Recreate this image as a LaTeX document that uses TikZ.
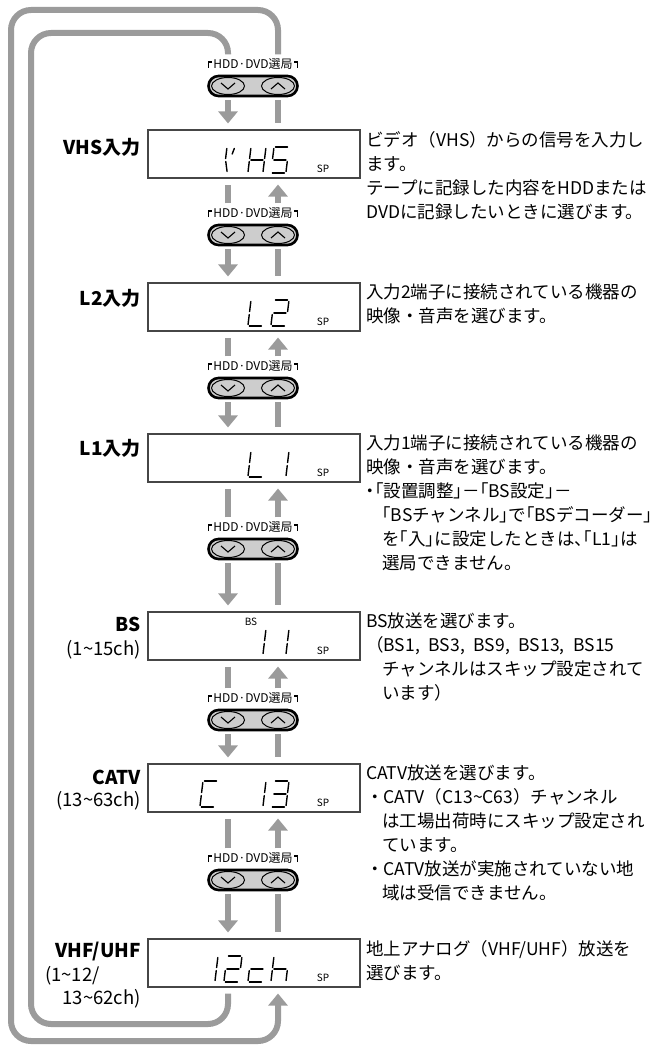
\documentclass[tikz,border=0pt]{standalone}
\usepackage{fontspec}
\setmainfont{Noto Sans CJK JP}
\newfontfamily\haltfont{Noto Sans CJK JP}[RawFeature=+halt]
\usepackage{tikz}
\usetikzlibrary{arrows.meta,shapes.geometric,shapes.misc}

\definecolor{flowgray}{RGB}{155,155,155}
\definecolor{keygray}{RGB}{205,205,205}
\definecolor{lcdframe}{RGB}{70,70,70}

\newcommand{\hw}[1]{{\haltfont #1}}

\tikzset{
  flow/.style={draw=flowgray, line width=6pt, shorten <=3pt, shorten >=6pt},
  flowarr/.style={flow, -{Triangle[width=19pt,length=12pt]}},
  loopline/.style={draw=flowgray, line width=6pt, rounded corners=20pt},
  display/.style={draw=lcdframe, line width=1.1pt, minimum width=212pt, minimum height=48pt, inner sep=0pt},
  selpill/.style={rounded rectangle, draw, line width=2.6pt, fill=keygray, minimum width=89pt, minimum height=20pt, inner sep=0pt},
  selkey/.style={ellipse, draw, line width=1pt, fill=keygray, minimum width=33pt, minimum height=17pt, inner sep=0pt},
  sellabel/.style={fill=white, inner sep=1pt, font=\fontsize{12}{12}\selectfont},
  chev/.style={line width=1.1pt},
  lcd/.style={line width=1.4pt, line cap=round},
  smalltag/.style={inner sep=0pt, font=\fontsize{10}{10}\selectfont},
  modename/.style={anchor=east, inner sep=0pt, font=\fontsize{19}{22}\selectfont\bfseries},
  chrange/.style={anchor=east, inner sep=0pt, font=\fontsize{18.5}{22}\selectfont},
  desc/.style={anchor=north west, align=left, inner sep=0pt, font=\fontsize{17.5}{24}\selectfont}
}

% one character of the display, #1/#2 = top left
\newcommand{\lcdchar}[3]{%
  \begin{scope}[shift={(#1,#2)}, xslant=0.12]
    \foreach \s in {#3}{%
      \if a\s \draw[lcd] (1.5,0) -- (13.5,0);\fi
      \if b\s \draw[lcd] (15,1.5) -- (15,11.5);\fi
      \if c\s \draw[lcd] (15,14.5) -- (15,24.5);\fi
      \if d\s \draw[lcd] (1.5,26) -- (13.5,26);\fi
      \if e\s \draw[lcd] (0,14.5) -- (0,24.5);\fi
      \if f\s \draw[lcd] (0,1.5) -- (0,11.5);\fi
      \if g\s \draw[lcd] (1.5,13) -- (13.5,13);\fi
      \if v\s \draw[lcd] (0.5,14.5) -- (3,24.5);\fi
      \if t\s \draw[lcd] (7.5,1.5) -- (6,7);\fi
    }%
  \end{scope}}

% channel buttons, #1 = number, #2 = y
\newcommand{\hddsel}[2]{%
  \node[sellabel] (lbl#1) at (253,#2-22) {HDD·DVD選局};
  \draw[chev] ([xshift=-4pt,yshift=-4pt]lbl#1.west) -- ++(0,-6) -- ++(3.5,0);
  \draw[chev] ([xshift=4pt,yshift=-4pt]lbl#1.east) -- ++(0,-6) -- ++(-3.5,0);
  \node[selpill] (sel#1) at (253,#2) {};
  \node[selkey] (dn#1) at (228,#2) {};
  \node[selkey] (up#1) at (278,#2) {};
  \draw[chev] ([xshift=-7pt,yshift=3pt]dn#1.center) -- ([yshift=-3pt]dn#1.center) -- ([xshift=7pt,yshift=3pt]dn#1.center);
  \draw[chev] ([xshift=-7pt,yshift=-3pt]up#1.center) -- ([yshift=3pt]up#1.center) -- ([xshift=7pt,yshift=-3pt]up#1.center);
}

\begin{document}
\begin{tikzpicture}[x=1pt, y=-1pt]
\useasboundingbox (0,0) rectangle (665,1046);

\node[display] (vhs) at (254,154) {};
\node[display] (ltwo) at (254,307) {};
\node[display] (lone) at (254,458) {};
\node[display] (bs) at (254,636) {};
\node[display] (catv) at (254,788) {};
\node[display] (vhf) at (254,963) {};

\hddsel{1}{86}
\hddsel{2}{235}
\hddsel{3}{388}
\hddsel{4}{549}
\hddsel{5}{720}
\hddsel{6}{880}

\coordinate (outtl) at (11,10);
\coordinate (outbl) at (11,1041);
\coordinate (intl) at (31,33);
\coordinate (inbl) at (31,1024);

\draw[loopline, -{Triangle[width=19pt,length=12pt]}, shorten <=3pt, shorten >=6pt] (lbl1.north -| up1) |- (outtl) -- (outbl) -| (vhf.south -| up1);
\draw[loopline, shorten <=6pt, shorten >=3pt] (vhf.south -| dn1) |- (inbl) -- (intl) -| (lbl1.north -| dn1);

\draw[flowarr] (sel1.south -| dn1) -- (vhs.north -| dn1);
\draw[flow] (sel1.south -| up1) -- (vhs.north -| up1);

\draw[flow] (lbl2.north -| dn2) -- (vhs.south -| dn2);
\draw[flowarr] (lbl2.north -| up2) -- (vhs.south -| up2);
\draw[flowarr] (sel2.south -| dn2) -- (ltwo.north -| dn2);
\draw[flow] (sel2.south -| up2) -- (ltwo.north -| up2);

\draw[flow] (lbl3.north -| dn3) -- (ltwo.south -| dn3);
\draw[flowarr] (lbl3.north -| up3) -- (ltwo.south -| up3);
\draw[flowarr] (sel3.south -| dn3) -- (lone.north -| dn3);
\draw[flow] (sel3.south -| up3) -- (lone.north -| up3);

\draw[flow] (lbl4.north -| dn4) -- (lone.south -| dn4);
\draw[flowarr] (lbl4.north -| up4) -- (lone.south -| up4);
\draw[flowarr] (sel4.south -| dn4) -- (bs.north -| dn4);
\draw[flow] (sel4.south -| up4) -- (bs.north -| up4);

\draw[flow] (lbl5.north -| dn5) -- (bs.south -| dn5);
\draw[flowarr] (lbl5.north -| up5) -- (bs.south -| up5);
\draw[flowarr] (sel5.south -| dn5) -- (catv.north -| dn5);
\draw[flow] (sel5.south -| up5) -- (catv.north -| up5);

\draw[flow] (lbl6.north -| dn6) -- (catv.south -| dn6);
\draw[flowarr] (lbl6.north -| up6) -- (catv.south -| up6);
\draw[flowarr] (sel6.south -| dn6) -- (vhf.north -| dn6);
\draw[flow] (sel6.south -| up6) -- (vhf.north -| up6);

% display contents
\lcdchar{227}{147}{f,v,t}
\lcdchar{251}{147}{b,c,e,f,g}
\lcdchar{274}{147}{a,f,g,c,d}
\lcdchar{251}{300}{f,e,d}
\lcdchar{274}{300}{a,b,g,e,d}
\lcdchar{251}{451}{f,e,d}
\lcdchar{274}{451}{b,c}
\lcdchar{251}{629}{b,c}
\lcdchar{274}{629}{b,c}
\lcdchar{203}{781}{a,f,e,d}
\lcdchar{251}{781}{b,c}
\lcdchar{274}{781}{a,b,g,c,d}
\lcdchar{203}{956}{b,c}
\lcdchar{227}{956}{a,b,g,e,d}
\lcdchar{251}{956}{g,e,d}
\lcdchar{274}{956}{f,e,g,c}

\node[smalltag] (bsmark) at (251,622) {BS};
\node[smalltag] (sp1) at (323,169) {SP};
\node[smalltag] (sp2) at (323,322) {SP};
\node[smalltag] (sp3) at (323,473) {SP};
\node[smalltag] (sp4) at (323,651) {SP};
\node[smalltag] (sp5) at (323,803) {SP};
\node[smalltag] (sp6) at (323,978) {SP};

\node[modename] (nvhs) at (141,147) {VHS入力};
\node[modename] (nltwo) at (141,298) {L2入力};
\node[modename] (nlone) at (141,448) {L1入力};
\node[modename] (nbs) at (141,624) {BS};
\node[chrange] (rbs) at (141,650) {(1\textasciitilde 15ch)};
\node[modename] (ncatv) at (141,777) {CATV};
\node[chrange] (rcatv) at (141,801) {(13\textasciitilde 63ch)};
\node[modename] (nvhf) at (141,952) {VHF/UHF};
\node[chrange, anchor=west] (rvhfa) at (45,976) {(1\textasciitilde 12/};
\node[chrange] (rvhfb) at (141,999) {13\textasciitilde 62ch)};

\node[desc] (dvhs) at (366,131) {ビデオ（VHS）からの信号を入力し\\ます。\\テープに記録した内容をHDDまたは\\DVDに記録したいときに選びます。};
\node[desc] (dltwo) at (366,284) {入力2端子に接続されている機器の\\映像・音声を選びます。};
\node[desc] (dlone) at (366,435) {入力1端子に接続されている機器の\\映像・音声を選びます。\\
  \hw{・「}設置調整\hw{」}－\hw{「}BS設定\hw{」}－\\
  \hspace*{16pt}\hw{「}BSチャンネル\hw{」}で\hw{「}BSデコーダー\hw{」}\\
  \hspace*{16pt}を\hw{「}入\hw{」}に設定したときは\hw{、「}L1\hw{」}は\\
  \hspace*{16pt}選局できません。};
\node[desc] (dbs) at (366,613) {BS放送を選びます。\\（BS1,\hspace{0.5em}BS3,\hspace{0.5em}BS9,\hspace{0.5em}BS13,\hspace{0.5em}BS15\\\hspace*{16pt}チャンネルはスキップ設定されて\\\hspace*{16pt}います）};
\node[desc] (dcatv) at (366,765) {CATV放送を選びます。\\・CATV（C13\textasciitilde C63）チャンネル\\\hspace*{16pt}は工場出荷時にスキップ設定され\\\hspace*{16pt}ています。\\・CATV放送が実施されていない地\\\hspace*{16pt}域は受信できません。};
\node[desc] (dvhf) at (366,940) {地上アナログ（VHF/UHF）放送を\\選びます。};
\end{tikzpicture}
\end{document}
